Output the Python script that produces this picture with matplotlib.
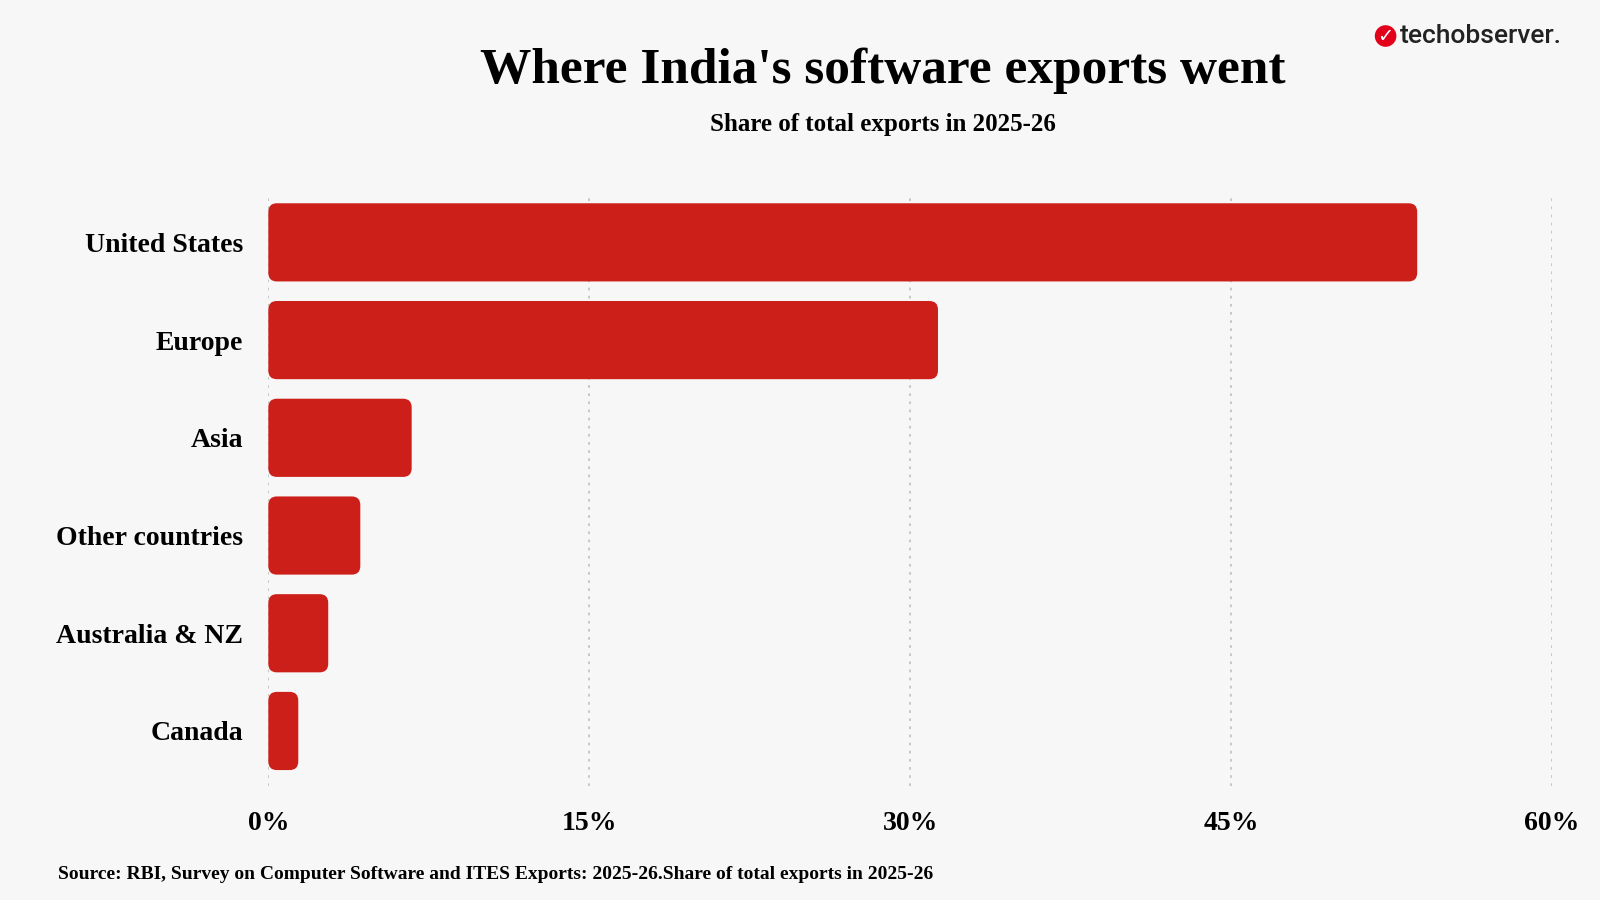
import matplotlib
matplotlib.use("Agg")
import matplotlib.pyplot as plt
from matplotlib.patches import FancyBboxPatch, Ellipse

categories = ["United States", "Europe", "Asia", "Other countries", "Australia & NZ", "Canada"]
values = [53.7, 31.3, 6.7, 4.3, 2.8, 1.4]
ticks = [0, 15, 30, 45, 60]
tick_labels = ["0%", "15%", "30%", "45%", "60%"]

bg = "#f7f7f7"
red = "#cc1f1a"
serif = ["Liberation Serif", "DejaVu Serif"]

fig = plt.figure(figsize=(16, 9), dpi=100, facecolor=bg)
ax = fig.add_axes([0.1677, 0.127, 0.8023, 0.658], facecolor=bg)
ax.set_xlim(0, 60)
ax.set_ylim(5.56, -0.5)

for t in ticks:
    ax.axvline(t, color="#c4c4c4", ls=(0, (1.5, 3)), lw=1.3, zorder=0)

h = 0.8
for i, v in enumerate(values):
    p = FancyBboxPatch((0, i - h / 2), v, h,
                       boxstyle="round,pad=0,rounding_size=0.4",
                       mutation_aspect=0.22, fc=red, ec="none", zorder=2)
    ax.add_patch(p)

ax.set_yticks(range(len(categories)))
ax.set_yticklabels(categories, fontfamily=serif, fontweight="bold", fontsize=20)
ax.set_xticks(ticks)
ax.set_xticklabels(tick_labels, fontfamily=serif, fontweight="bold", fontsize=20)
ax.tick_params(axis="x", length=0, pad=18)
ax.tick_params(axis="y", length=0, pad=18)
for s in ax.spines.values():
    s.set_visible(False)

fig.text(0.552, 0.921, "Where India's software exports went", ha="center", va="center",
         fontfamily=serif, fontweight="bold", fontsize=37)
fig.text(0.552, 0.862, "Share of total exports in 2025-26", ha="center", va="center",
         fontfamily=serif, fontweight="bold", fontsize=18)
fig.text(0.036, 0.028, "Source: RBI, Survey on Computer Software and ITES Exports: 2025-26.Share of total exports in 2025-26",
         ha="left", va="center", fontfamily=serif, fontweight="bold", fontsize=14)

# logo
fig.patches.append(Ellipse((0.866, 0.96), 0.0135, 0.0135 * 16 / 9, transform=fig.transFigure,
                           fc="#e3001b", ec="none", figure=fig))
fig.text(0.866, 0.959, "✓", ha="center", va="center", color="white", fontsize=14, fontweight="bold")
fig.text(0.875, 0.96, "techobserver.", ha="left", va="center", fontfamily=["Roboto", "DejaVu Sans"],
         fontsize=19, fontweight="medium", color="#222222")

fig.savefig("out.png", dpi=100, facecolor=bg)
